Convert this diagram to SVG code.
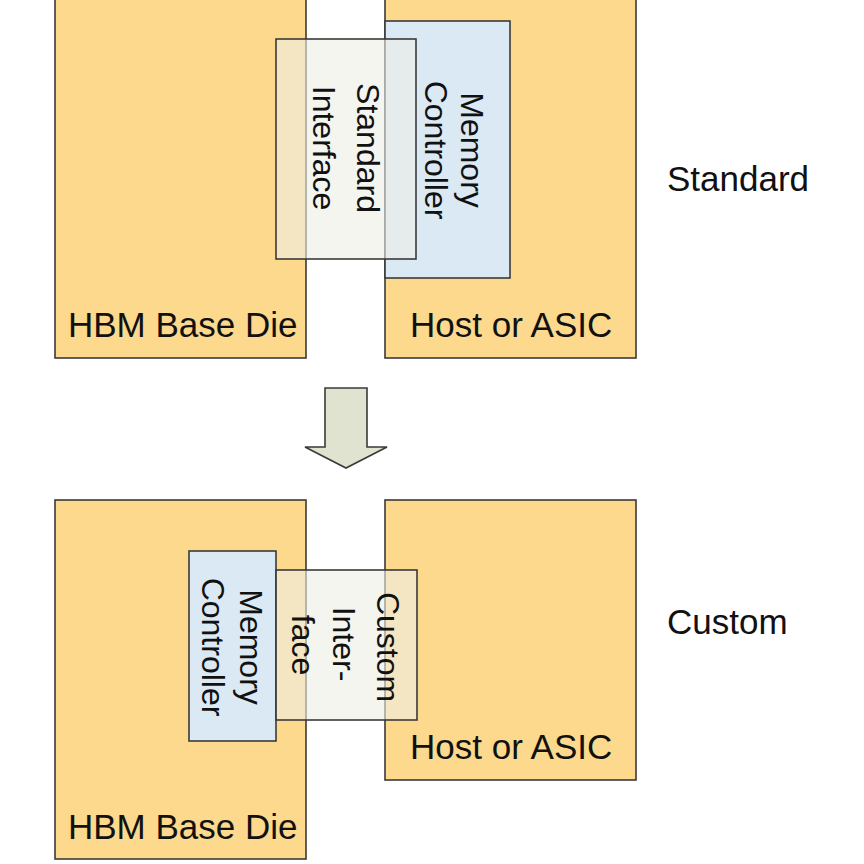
<svg xmlns="http://www.w3.org/2000/svg" width="864" height="864" viewBox="0 0 864 864">
<style>
.die{fill:#fcd98c;stroke:#3a3a3a;stroke-width:1.6}
.mc{fill:#dae9f3;stroke:#3a3a3a;stroke-width:1.6}
.if{fill:#eeeee6;fill-opacity:0.6;stroke:#3a3a3a;stroke-width:1.6}
.lbl{font-family:"Liberation Sans",Arial,sans-serif;font-size:35px;fill:#111}
.rot{font-family:"Liberation Sans",Arial,sans-serif;font-size:32px;fill:#111;text-anchor:middle}
.arrow{fill:#dfe3cf;stroke:#3a3a3a;stroke-width:1.6}
</style>
<rect width="864" height="864" fill="#ffffff"/>

<g id="top-hbm-base-die">
<rect class="die" x="55" y="-5" width="251" height="363"/>
<text class="lbl" x="68" y="337">HBM Base Die</text>
</g>
<g id="top-host-asic">
<rect class="die" x="385" y="-5" width="251" height="363"/>
<text class="lbl" x="410" y="337">Host or ASIC</text>
</g>
<g id="top-memory-controller">
<rect class="mc" x="385" y="21" width="125" height="257"/>
<text class="rot" transform="translate(461,150) rotate(90)">Memory</text>
<text class="rot" transform="translate(425,150) rotate(90)">Controller</text>
</g>
<g id="top-standard-interface">
<rect class="if" x="276" y="39" width="140" height="220"/>
<text class="rot" transform="translate(357,148) rotate(90)">Standard</text>
<text class="rot" transform="translate(313,148) rotate(90)">Interface</text>
</g>
<g id="label-standard">
<text class="lbl" x="667" y="191">Standard</text>
</g>

<g id="connectors">
<polygon class="arrow" points="325,388 367,388 367,447 387,447 346,468 305,447 325,447"/>
</g>

<g id="bottom-hbm-base-die">
<rect class="die" x="55" y="500" width="251" height="359"/>
<text class="lbl" x="68" y="839">HBM Base Die</text>
</g>
<g id="bottom-host-asic">
<rect class="die" x="385" y="500" width="251" height="280"/>
<text class="lbl" x="410" y="759">Host or ASIC</text>
</g>
<g id="bottom-memory-controller">
<rect class="mc" x="189" y="551" width="87" height="190"/>
<text class="rot" transform="translate(240,647) rotate(90)">Memory</text>
<text class="rot" transform="translate(202,647) rotate(90)">Controller</text>
</g>
<g id="bottom-custom-interface">
<rect class="if" x="276" y="570" width="141" height="150"/>
<text class="rot" transform="translate(377,647) rotate(90)">Custom</text>
<text class="rot" transform="translate(333,644) rotate(90)">Inter-</text>
<text class="rot" transform="translate(292,645) rotate(90)">face</text>
</g>
<g id="label-custom">
<text class="lbl" x="667" y="634">Custom</text>
</g>
</svg>
